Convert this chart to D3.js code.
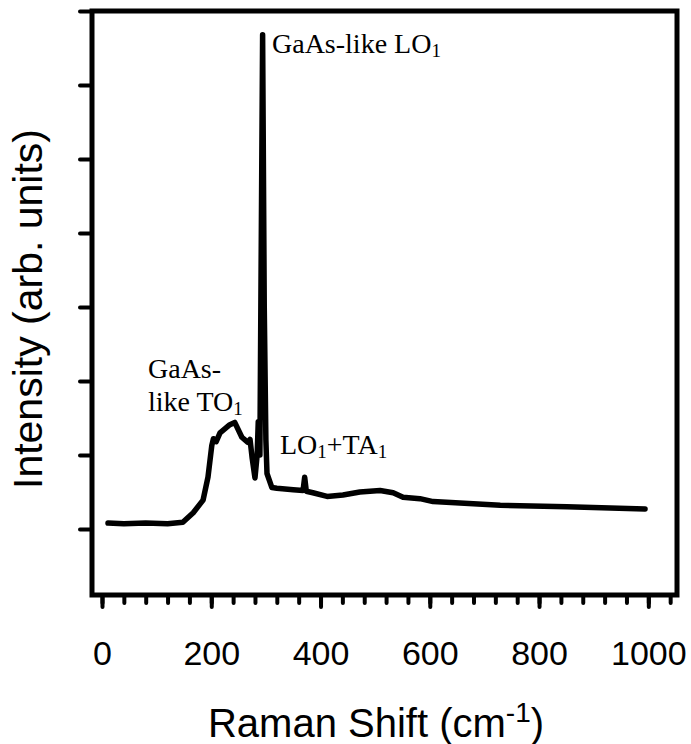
<!DOCTYPE html>
<html>
<head>
<meta charset="utf-8">
<script src="https://cdn.jsdelivr.net/npm/d3@7"></script>
<style>
  body { margin: 0; background: #fff; }
  svg { display: block; }
</style>
</head>
<body>
<div id="chart"></div>
<script>
// Raman spectrum (wavenumber in cm-1, intensity in arb. units)
const shift = [11, 40, 80, 120, 148, 167, 185, 194, 201, 204, 209, 216, 234, 243, 256, 267, 271, 275, 280,
  284, 286, 289, 294, 297, 300, 302, 311, 320, 350, 368, 371, 374, 386, 412, 441, 472, 509, 533, 551, 582,
  606, 729, 851, 994];
const intensity = [1.08, 1.07, 1.08, 1.07, 1.09, 1.22, 1.39, 1.70, 2.13, 2.22, 2.18, 2.30, 2.41, 2.44, 2.24, 2.17, 2.21, 1.95, 1.69,
  2.0, 2.45, 2.0, 7.68, 4.0, 2.2, 1.75, 1.56, 1.55, 1.53, 1.52, 1.70, 1.51, 1.49, 1.44, 1.46, 1.50, 1.52, 1.49, 1.43, 1.41,
  1.37, 1.32, 1.30, 1.27];

const xMajor = [0, 200, 400, 600, 800, 1000];
const xMinor = d3.range(0, 1041, 40);
const yTicks = [1, 2, 3, 4, 5, 6, 7, 8];

const W = 691, H = 744;
const plot = {left: 92, top: 11, right: 677, bottom: 595};

const svg = d3.select("#chart").append("svg")
  .attr("width", W)
  .attr("height", H);

const x = d3.scaleLinear().domain([-18.3, 1052.5]).range([plot.left, plot.right]);
const y = d3.scaleLinear().domain([0.108, 8]).range([plot.bottom, plot.top]);

// y ticks (no labels)
const yAxis = svg.append("g")
  .attr("transform", `translate(${plot.left},0)`)
  .call(d3.axisLeft(y).tickValues(yTicks).tickSize(12).tickFormat(""));
yAxis.select(".domain").remove();
yAxis.selectAll(".tick line").attr("stroke", "#000").attr("stroke-width", 4).attr("stroke-linecap", "round");

// minor x ticks
const xMinorAxis = svg.append("g")
  .attr("transform", `translate(0,${plot.bottom})`)
  .call(d3.axisBottom(x).tickValues(xMinor).tickSize(8).tickFormat(""));
xMinorAxis.select(".domain").remove();
xMinorAxis.selectAll(".tick line").attr("stroke", "#000").attr("stroke-width", 4).attr("stroke-linecap", "round");

// major x ticks with labels
const xAxis = svg.append("g")
  .attr("transform", `translate(0,${plot.bottom})`)
  .call(d3.axisBottom(x).tickValues(xMajor).tickSize(12).tickPadding(34).tickFormat(d3.format("d")));
xAxis.select(".domain").remove();
xAxis.selectAll(".tick line").attr("stroke", "#000").attr("stroke-width", 4).attr("stroke-linecap", "round");
xAxis.selectAll(".tick text")
  .attr("fill", "#000")
  .style("font-family", "Liberation Sans, Arial, sans-serif")
  .style("font-size", "34px");

// frame
svg.append("rect")
  .attr("x", plot.left).attr("y", plot.top)
  .attr("width", plot.right - plot.left).attr("height", plot.bottom - plot.top)
  .attr("fill", "none").attr("stroke", "#000").attr("stroke-width", 5);

// spectrum
const data = shift.map((s, i) => ({s: s, v: intensity[i]}));
const line = d3.line().x(d => x(d.s)).y(d => y(d.v));
svg.append("path")
  .datum(data)
  .attr("fill", "none")
  .attr("stroke", "#000")
  .attr("stroke-width", 5.5)
  .attr("stroke-linejoin", "round")
  .attr("stroke-linecap", "round")
  .attr("d", line);

// annotations (sub parts are subscripts)
const serif = "Liberation Serif, Times New Roman, serif";
function label(xp, yp, parts) {
  const t = svg.append("text")
    .attr("x", xp).attr("y", yp)
    .style("font-family", serif).style("font-size", "28px").attr("fill", "#000");
  let shifted = false;
  parts.forEach(p => {
    const ts = t.append("tspan").text(p.t);
    if (p.sub) {
      ts.attr("dy", 4).style("font-size", "19px");
      shifted = true;
    } else if (shifted) {
      ts.attr("dy", -4);
      shifted = false;
    }
  });
}
label(272, 53, [{t: "GaAs-like LO"}, {t: "1", sub: true}]);
label(148, 378, [{t: "GaAs-"}]);
label(148, 411, [{t: "like TO"}, {t: "1", sub: true}]);
label(280, 454, [{t: "LO"}, {t: "1", sub: true}, {t: "+TA"}, {t: "1", sub: true}]);

// axis titles
const sans = "Liberation Sans, Arial, sans-serif";
const xt = svg.append("text")
  .attr("x", 376).attr("y", 737)
  .attr("text-anchor", "middle")
  .style("font-family", sans).style("font-size", "40px").attr("fill", "#000");
xt.append("tspan").text("Raman Shift (cm");
xt.append("tspan").attr("dy", -15).style("font-size", "28px").text("-1");
xt.append("tspan").attr("dy", 15).text(")");

svg.append("text")
  .attr("transform", `translate(42,${(plot.top + plot.bottom) / 2 + 6}) rotate(-90)`)
  .attr("text-anchor", "middle")
  .style("font-family", sans).style("font-size", "41px").attr("fill", "#000")
  .text("Intensity (arb. units)");
</script>
</body>
</html>
